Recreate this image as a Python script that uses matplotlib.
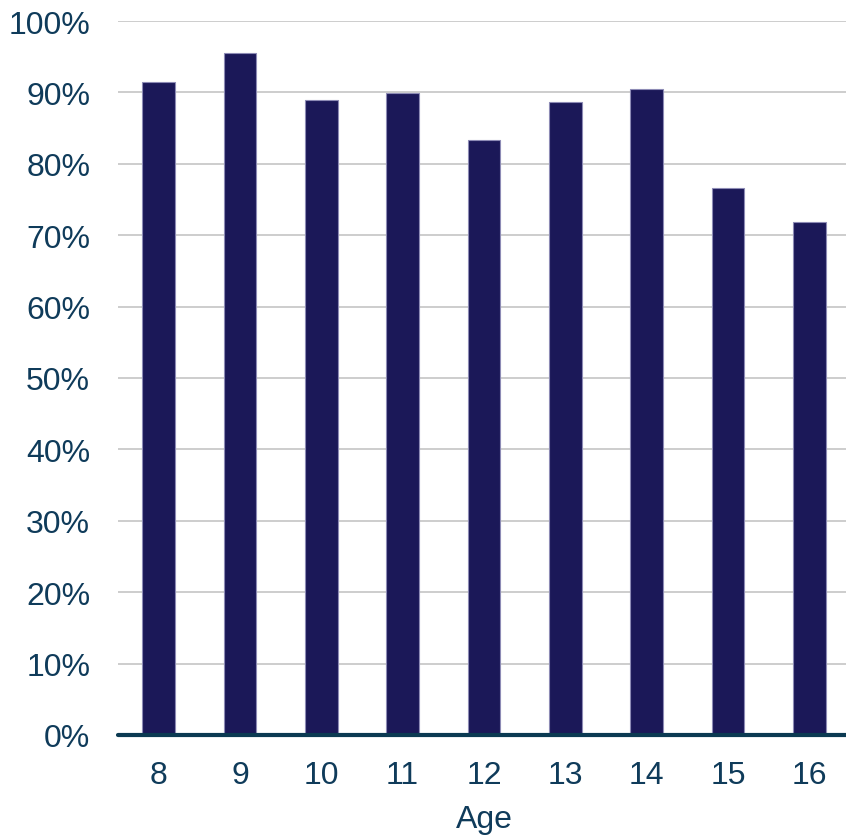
import matplotlib
matplotlib.use("Agg")
import matplotlib.pyplot as plt
from matplotlib.ticker import PercentFormatter

ages = ["8", "9", "10", "11", "12", "13", "14", "15", "16"]
values = [91.5, 95.5, 88.9, 89.9, 83.3, 88.7, 90.5, 76.6, 71.8]
yticks = [0, 10, 20, 30, 40, 50, 60, 70, 80, 90, 100]

text_color = "#0f3b5a"
bar_color = "#1b1858"

plt.rcParams["font.family"] = ["Liberation Sans", "DejaVu Sans"]

fig = plt.figure(figsize=(8.46, 8.37), dpi=100)
ax = fig.add_axes([118/846, (837-736)/837, (850-118)/846, (736-22)/837])

x = range(len(ages))
ax.bar(x, values, width=0.4, color=bar_color, edgecolor="#8d8bb5", linewidth=0.8, zorder=3)

ax.set_xlim(-0.5, len(ages) - 0.5)
ax.set_ylim(0, 100)
ax.set_yticks(yticks)
ax.yaxis.set_major_formatter(PercentFormatter(decimals=0))
ax.set_xticks(list(x))
ax.set_xticklabels(ages)

ax.grid(axis="y", color="#c9c9c9", linewidth=1.3, zorder=0)
ax.set_axisbelow(True)
for s in ["top", "right", "left"]:
    ax.spines[s].set_visible(False)
ax.spines["bottom"].set_color("#0b3a52")
ax.spines["bottom"].set_linewidth(3)
ax.spines["bottom"].set_capstyle("round")
ax.spines["bottom"].set_zorder(4)

ax.tick_params(axis="both", length=0, labelsize=23, labelcolor=text_color)
ax.tick_params(axis="y", pad=20)
ax.tick_params(axis="x", pad=18)
ax.set_xlabel("Age", fontsize=23, color=text_color, labelpad=10)

fig.savefig("out.png", dpi=100)
